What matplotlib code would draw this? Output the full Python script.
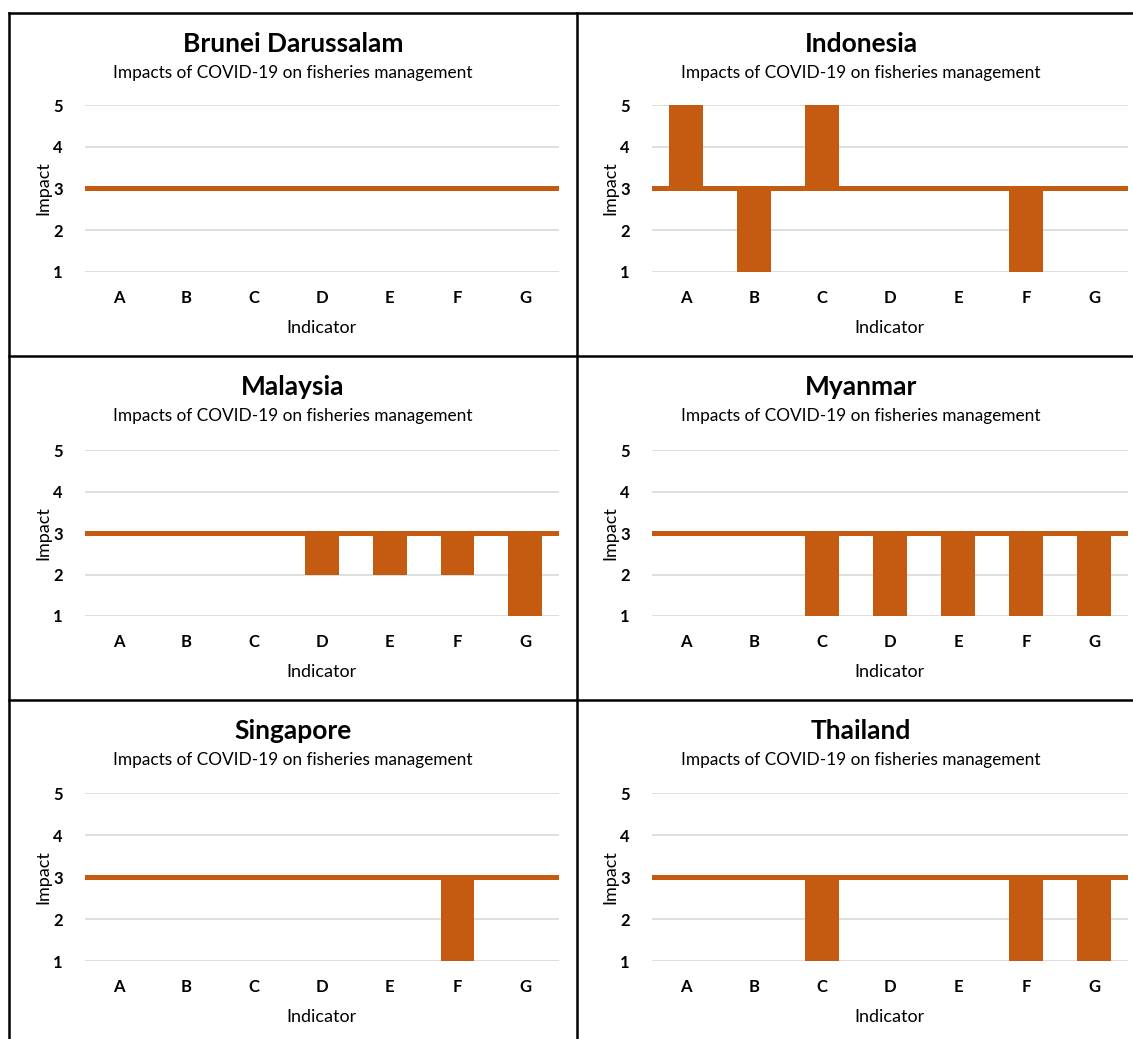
import numpy as np
import matplotlib.pyplot as plt
from matplotlib.lines import Line2D

plt.rcParams["font.family"] = ["Lato", "DejaVu Sans"]

# ------------------------------------------------------------
# Data
# ------------------------------------------------------------
indicators = ["A", "B", "C", "D", "E", "F", "G"]
countries = ["Brunei Darussalam", "Indonesia", "Malaysia",
             "Myanmar", "Singapore", "Thailand"]

brunei = [3, 3, 3, 3, 3, 3, 3]
indonesia = [5, 1, 5, 3, 3, 1, 3]
malaysia = [3, 3, 3, 2, 2, 2, 1]
myanmar = [3, 3, 1, 1, 1, 1, 1]
singapore = [3, 3, 3, 3, 3, 1, 3]
thailand = [3, 3, 1, 3, 3, 1, 1]

series = [brunei, indonesia, malaysia, myanmar, singapore, thailand]

subtitle = "Impacts of COVID-19 on fisheries management"
baseline = 3
orange = "#C55A11"
grid_col = "#D9D9D9"

W, H = 1133, 1039
fig = plt.figure(figsize=(W / 100, H / 100), dpi=100)

# axes boxes in pixels: (left, top, right, bottom)
col_x = [(85, 559), (652, 1128)]
title_cx = [293, 861]
row_y = [(105, 272), (450, 616), (793, 961)]
title_y = [44, 387, 731]

for i, (name, vals) in enumerate(zip(countries, series)):
    r, c = divmod(i, 2)
    x0, x1 = col_x[c]
    y0, y1 = row_y[r]
    ax = fig.add_axes([x0 / W, 1 - y1 / H, (x1 - x0) / W, (y1 - y0) / H])

    x = np.arange(len(indicators))
    heights = [v - baseline for v in vals]
    ax.bar(x, heights, bottom=baseline, width=0.5, color=orange, zorder=3)
    ax.axhline(baseline, color=orange, lw=3.6, zorder=2)

    ax.set_ylim(1, 5)
    ax.set_xlim(-0.5, len(indicators) - 0.5)
    ax.set_yticks([1, 2, 3, 4, 5])
    ax.set_xticks(x)
    ax.set_xticklabels(indicators, fontweight="bold", fontsize=12)
    ax.set_yticklabels([1, 2, 3, 4, 5], fontweight="bold", fontsize=12)
    ax.tick_params(axis="x", length=0, pad=13)
    ax.tick_params(axis="y", length=0, pad=16)
    ax.grid(axis="y", color=grid_col, lw=1.2, zorder=0)
    for s in ax.spines.values():
        s.set_visible(False)

    ax.set_ylabel("Impact", fontsize=13, labelpad=1)
    ax.set_xlabel("Indicator", fontsize=13, labelpad=10)

    cx = title_cx[c] / W
    ty = title_y[r]
    fig.text(cx, 1 - ty / H, name, ha="center", va="center",
             fontsize=19, fontweight="bold")
    fig.text(cx, 1 - (ty + 29) / H, subtitle, ha="center",
             va="center", fontsize=12.4)

# panel borders
def hline(y, xa, xb):
    fig.add_artist(Line2D([xa / W, xb / W], [1 - y / H, 1 - y / H],
                          color="black", lw=1.8))

def vline(x, ya, yb):
    fig.add_artist(Line2D([x / W, x / W], [1 - ya / H, 1 - yb / H],
                          color="black", lw=1.8))

hline(13, 9, W)
hline(356, 9, W)
hline(700, 9, W)
vline(9, 13, H)
vline(577, 13, H)

fig.savefig("out.png", dpi=100)
